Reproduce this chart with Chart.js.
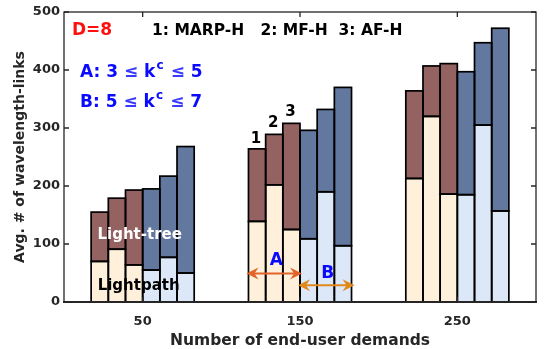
<!DOCTYPE html>
<html>
<head>
<meta charset="utf-8">
<script src="https://cdn.jsdelivr.net/npm/chart.js@4/dist/chart.umd.min.js"></script>
<style>
  body { margin: 0; background: #fff; }
  #wrap { width: 544px; height: 349px; }
</style>
</head>
<body>
<div id="wrap"><canvas id="myChart" width="544" height="349"></canvas></div>
<script>
// demands on the x axis
const demands = ['50', '150', '250'];
const yTicks = [0, 100, 200, 300, 400, 500];

// lightpath part (bottom) and light-tree part (top) of each stacked bar
// A = 3 <= k^c <= 5, B = 5 <= k^c <= 7 ; 1: MARP-H, 2: MF-H, 3: AF-H
const pathA1 = [70, 139, 213];
const treeA1 = [85, 125, 151];
const pathA2 = [91, 202, 320];
const treeA2 = [88, 87, 87];
const pathA3 = [64, 125, 186];
const treeA3 = [129, 183, 225];
const pathB1 = [55, 109, 185];
const treeB1 = [140, 187, 212];
const pathB2 = [77, 190, 305];
const treeB2 = [140, 142, 142];
const pathB3 = [50, 97, 157];
const treeB3 = [218, 273, 315];

const FONT = 'DejaVu Sans';
const ink = '#262626';

let pathA = [pathA1, pathA2, pathA3];
let treeA = [treeA1, treeA2, treeA3];
let pathB = [pathB1, pathB2, pathB3];
let treeB = [treeB1, treeB2, treeB3];

let datasets = [];
function bar(label, data, stack, color) {
    return {
        label: label,
        data: data,
        stack: stack,
        backgroundColor: color,
        borderWidth: 0,
        barPercentage: 1,
        categoryPercentage: 0.655
    };
}
for (let i = 0; i < 3; i++) datasets.push(bar('Lightpath A' + (i + 1), pathA[i], 'A' + (i + 1), '#fef0da'));
for (let i = 0; i < 3; i++) datasets.push(bar('Lightpath B' + (i + 1), pathB[i], 'B' + (i + 1), '#dce8f8'));
for (let i = 0; i < 3; i++) datasets.push(bar('Light-tree A' + (i + 1), treeA[i], 'A' + (i + 1), '#946261'));
for (let i = 0; i < 3; i++) datasets.push(bar('Light-tree B' + (i + 1), treeB[i], 'B' + (i + 1), '#62789f'));

function arrow(ctx, x1, x2, y, color) {
    ctx.save();
    ctx.strokeStyle = color;
    ctx.fillStyle = color;
    ctx.lineWidth = 2;
    ctx.beginPath();
    ctx.moveTo(x1 + 4, y);
    ctx.lineTo(x2 - 4, y);
    ctx.stroke();
    [[x1, 1], [x2, -1]].forEach(function (h) {
        let x = h[0], d = h[1];
        ctx.beginPath();
        ctx.moveTo(x, y);
        ctx.lineTo(x + d * 12, y - 6);
        ctx.lineTo(x + d * 8, y);
        ctx.lineTo(x + d * 12, y + 6);
        ctx.closePath();
        ctx.fill();
    });
    ctx.restore();
}

function kLine(ctx, x, y, head, a, b) {
    ctx.font = 'bold 17px ' + FONT;
    ctx.textBaseline = 'middle';
    ctx.textAlign = 'left';
    ctx.fillStyle = '#0a0aff';
    let s = head + ' ' + a + ' ';
    ctx.fillText(s, x, y);
    x += ctx.measureText(s).width;
    ctx.fillStyle = '#3a3aff';
    ctx.fillText('≤', x, y);
    x += ctx.measureText('≤ ').width;
    ctx.fillStyle = '#0a0aff';
    ctx.fillText('k', x, y);
    x += ctx.measureText('k').width + 1;
    ctx.font = 'bold 12px ' + FONT;
    ctx.fillText('c', x, y - 7);
    x += ctx.measureText('c ').width + 3;
    ctx.font = 'bold 17px ' + FONT;
    ctx.fillStyle = '#3a3aff';
    ctx.fillText('≤', x, y);
    x += ctx.measureText('≤ ').width;
    ctx.fillStyle = '#0a0aff';
    ctx.fillText(b, x, y);
}

const decorations = {
    id: 'decorations',
    afterDatasetsDraw(chart) {
        const ctx = chart.ctx;
        const a = chart.chartArea;
        const xs = chart.scales.x, ys = chart.scales.y;
        ctx.save();

        // single black outline around every bar segment
        ctx.strokeStyle = '#000';
        ctx.lineWidth = 1.7;
        chart.data.datasets.forEach(function (ds, di) {
            chart.getDatasetMeta(di).data.forEach(function (el) {
                let w = el.width;
                ctx.strokeRect(el.x - w / 2, Math.min(el.y, el.base), w, Math.abs(el.base - el.y));
            });
        });

        // box
        ctx.strokeStyle = ink;
        ctx.lineWidth = 1.3;
        ctx.strokeRect(a.left, a.top, a.right - a.left, a.bottom - a.top);
        ctx.lineWidth = 2;
        ctx.beginPath();
        ctx.moveTo(a.left - 1, a.bottom);
        ctx.lineTo(a.right + 1, a.bottom);
        ctx.stroke();
        // inward ticks
        ctx.lineWidth = 1.3;
        ctx.beginPath();
        yTicks.forEach(function (v) {
            let y = ys.getPixelForValue(v);
            ctx.moveTo(a.left, y); ctx.lineTo(a.left + 5, y);
            ctx.moveTo(a.right, y); ctx.lineTo(a.right - 5, y);
        });
        demands.forEach(function (d, i) {
            let x = xs.getPixelForValue(i);
            ctx.moveTo(x, a.bottom); ctx.lineTo(x, a.bottom - 5);
            ctx.moveTo(x, a.top); ctx.lineTo(x, a.top + 5);
        });
        ctx.stroke();

        // annotations
        ctx.textBaseline = 'middle';
        ctx.textAlign = 'left';
        ctx.font = 'bold 17px ' + FONT;
        ctx.fillStyle = '#ff1010';
        ctx.fillText('D=8', 72, 31);
        ctx.font = 'bold 15.5px ' + FONT;
        ctx.fillStyle = '#000';
        ctx.fillText('1: MARP-H   2: MF-H  3: AF-H', 152, 31);

        kLine(ctx, 80, 73, 'A:', '3', '5');
        kLine(ctx, 80, 103, 'B:', '5', '7');

        // numbers above the A bars of the 150 group
        ctx.font = 'bold 15px ' + FONT;
        ctx.textAlign = 'center';
        ctx.fillStyle = '#000';
        for (let i = 0; i < 3; i++) {
            let el = chart.getDatasetMeta(6 + i).data[1];
            ctx.fillText(String(i + 1), el.x - 1, el.y - 11 + (i === 0 ? 1 : 0));
        }

        // group labels on the 50 group
        let c0 = xs.getPixelForValue(0);
        ctx.font = 'bold 15px ' + FONT;
        ctx.fillStyle = '#fff';
        ctx.fillText('Light-tree', c0 - 3, ys.getPixelForValue(115));
        ctx.fillStyle = '#000';
        ctx.fillText('Lightpath', c0 - 4, ys.getPixelForValue(27));

        // A / B arrows on the 150 group
        let elA1 = chart.getDatasetMeta(0).data[1];
        let elA3 = chart.getDatasetMeta(2).data[1];
        let elB1 = chart.getDatasetMeta(3).data[1];
        let elB3 = chart.getDatasetMeta(5).data[1];
        let ay = ys.getPixelForValue(49), by = ys.getPixelForValue(29);
        arrow(ctx, elA1.x - elA1.width / 2 - 2, elA3.x + elA3.width / 2 + 2, ay, '#e2642a');
        arrow(ctx, elB1.x - elB1.width / 2 - 2, elB3.x + elB3.width / 2 + 3, by, '#e0881a');
        ctx.font = 'bold 17px ' + FONT;
        ctx.fillStyle = '#0a0aff';
        ctx.fillText('A', (elA1.x + elA3.x) / 2 + 2, ay - 13);
        ctx.fillText('B', (elB1.x + elB3.x) / 2 + 2, by - 12);
        ctx.restore();
    }
};

new Chart(document.getElementById('myChart'), {
    type: 'bar',
    data: {
        labels: demands,
        datasets: datasets
    },
    options: {
        responsive: false,
        animation: false,
        events: [],
        layout: { padding: { top: 12, right: 8, left: 0, bottom: 0 } },
        plugins: {
            legend: { display: false },
            tooltip: { enabled: false }
        },
        scales: {
            x: {
                stacked: true,
                grid: { display: false, drawTicks: false },
                border: { display: false },
                ticks: { color: ink, font: { family: FONT, weight: 'bold', size: 13 }, padding: 12 },
                title: {
                    display: true,
                    text: 'Number of end-user demands',
                    color: ink,
                    font: { family: FONT, weight: 'bold', size: 15.5, lineHeight: 1 },
                    padding: 0
                },
                afterFit: function (scale) { scale.height = 47; }
            },
            y: {
                stacked: true,
                min: 0,
                max: 500,
                grid: { display: false, drawTicks: false },
                border: { display: false },
                ticks: {
                    stepSize: 100,
                    color: ink,
                    font: { family: FONT, weight: 'bold', size: 13 },
                    padding: 4
                },
                title: {
                    display: true,
                    text: 'Avg. # of wavelength-links',
                    color: ink,
                    font: { family: FONT, weight: 'bold', size: 14, lineHeight: 1 },
                    padding: { top: 13, bottom: 0 }
                },
                afterFit: function (scale) { scale.width = 64; }
            }
        }
    },
    plugins: [decorations]
});
</script>
</body>
</html>
